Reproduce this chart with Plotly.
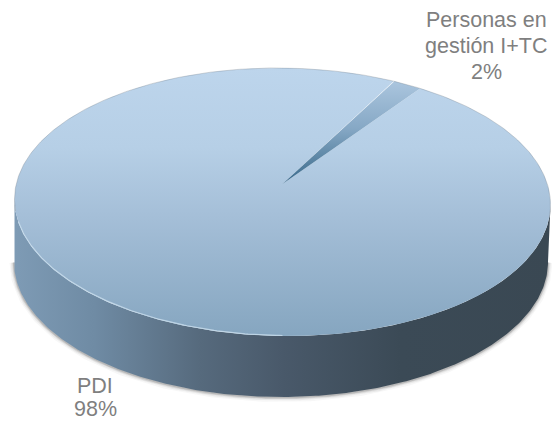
import numpy as np
import plotly.graph_objects as go

categories = ["Personas en<br>gestión I+TC", "PDI"]
values = [2, 98]
percent_labels = ["2%", "98%"]

W, H = 552, 421
CX, CY, RX, RY = 282.5, 202.0, 268.0, 134.0      # top disc outline
BX, BY, BRX, BRY = 281.0, 262.0, 267.0, 135.0    # bottom disc outline
APEX_Y = 184.0                                    # where the disc centre appears
START_DEG = 27.9
TILT = 0.01
P = (CY - APEX_Y) / RY


def tilt(x, y):
    return x, y + TILT * (x - CX)


def rim(deg):
    """Disc angle (clockwise from the back) to screen, with perspective."""
    t = np.radians(deg)
    u, v = np.sin(t), np.cos(t)
    d = 1 + P * v
    yy = (v + P) / d
    xx = u * np.sqrt(1 - P * P) / d
    return tilt(CX + RX * xx, CY - RY * yy)


def wedge(a0, a1):
    t = np.linspace(a0, a1, 400)
    x, y = rim(t)
    return np.r_[CX, x, CX], np.r_[APEX_Y, y, APEX_Y]


total = sum(values)
spans = [v / total * 360 for v in values]
a_small = (START_DEG, START_DEG + spans[0])
a_big = (a_small[1], a_small[1] + spans[1])

t = np.linspace(0, np.pi, 300)
top_x, top_y = tilt(CX + RX * np.cos(t), CY + RY * np.sin(t))
bot_x, bot_y = BX + BRX * np.cos(t), BY + BRY * np.sin(t)

fig = go.Figure()

# soft shadow below the side wall
for w, a in [(9, 0.04), (6, 0.07), (3.5, 0.12), (1.8, 0.18)]:
    fig.add_trace(go.Scatter(x=bot_x, y=bot_y + 0.5, mode="lines",
                             line=dict(color=f"rgba(60,60,60,{a})", width=w),
                             hoverinfo="skip"))

# side wall
fig.add_trace(go.Scatter(
    x=np.r_[top_x, bot_x[::-1]], y=np.r_[top_y, bot_y[::-1]],
    mode="lines", line=dict(width=0), fill="toself",
    fillgradient=dict(type="horizontal", start=14, stop=551, colorscale=[
        [0, "#7e9bb5"], [0.15, "#6f8ba4"], [0.346, "#566a7d"], [0.5, "#49596a"],
        [0.72, "#3b4a56"], [1, "#3a4853"]]),
    hoverinfo="skip"))

# PDI slice
x, y = wedge(*a_big)
fig.add_trace(go.Scatter(
    x=x, y=y, mode="lines", line=dict(width=0), fill="toself",
    fillgradient=dict(type="vertical", start=68, stop=335, colorscale=[
        [0, "#bdd5ec"], [0.3, "#b6cfe6"], [0.55, "#a5bfd8"], [1, "#86a6c0"]]),
    hoverinfo="skip"))

# Personas en gestión slice
x, y = wedge(*a_small)
fig.add_trace(go.Scatter(
    x=x, y=y, mode="lines", line=dict(width=0), fill="toself",
    fillgradient=dict(type="vertical", start=83, stop=184, colorscale=[
        [0, "#a9c4dd"], [0.45, "#86a8c5"], [0.8, "#55809f"], [1, "#38688c"]]),
    hoverinfo="skip"))

# rim: pale highlight at front left, grey edge at the back
a = np.linspace(100, 180, 120)
hx, hy = tilt(CX - RX * np.sin(np.radians(a)), CY - RY * np.cos(np.radians(a)) - 0.5)
fig.add_trace(go.Scatter(x=hx, y=hy, mode="lines",
                         line=dict(color="rgba(205,225,240,0.75)", width=1.2),
                         hoverinfo="skip"))
a = np.linspace(-95, 95, 300)
ex, ey = tilt(CX + RX * np.sin(np.radians(a)), CY - RY * np.cos(np.radians(a)))
fig.add_trace(go.Scatter(x=ex, y=ey, mode="lines",
                         line=dict(color="rgba(110,120,130,0.3)", width=1),
                         hoverinfo="skip"))

label_font = dict(family="Liberation Sans", size=21.5, color="#7f7f7f")
lines_a = categories[0].split("<br>") + [percent_labels[0]]
for txt, yy in zip(lines_a, [20, 46, 72]):
    fig.add_annotation(x=486, y=yy, text=txt, showarrow=False, font=label_font)
lines_b = categories[1].split("<br>") + [percent_labels[1]]
for txt, yy in zip(lines_b, [386, 409]):
    fig.add_annotation(x=95, y=yy, text=txt, showarrow=False, font=label_font)

fig.update_layout(
    width=W, height=H, margin=dict(l=0, r=0, t=0, b=0), showlegend=False,
    paper_bgcolor="white", plot_bgcolor="white",
    xaxis=dict(range=[0, W], visible=False, fixedrange=True),
    yaxis=dict(range=[H, 0], visible=False, fixedrange=True),
)
fig.write_html("out.html", config={"displayModeBar": False},
               post_script="document.body.style.margin='0';document.body.style.overflow='hidden';")
